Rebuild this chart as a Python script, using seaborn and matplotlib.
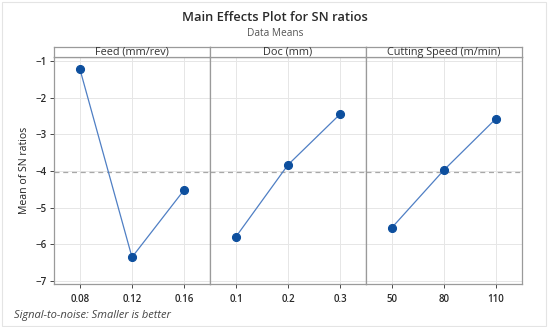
import seaborn as sns
import pandas as pd
import numpy as np
import matplotlib.pyplot as plt
from matplotlib.patches import Rectangle

# factor levels and mean SN ratios
feed_levels = ["0.08", "0.12", "0.16"]
feed_sn = [-1.23, -6.35, -4.52]
doc_levels = ["0.1", "0.2", "0.3"]
doc_sn = [-5.79, -3.83, -2.45]
speed_levels = ["50", "80", "110"]
speed_sn = [-5.54, -3.97, -2.57]

factors = ["Feed (mm/rev)", "Doc (mm)", "Cutting Speed (m/min)"]
levels = [feed_levels, doc_levels, speed_levels]
values = [feed_sn, doc_sn, speed_sn]

rows = []
for f, lv, vals in zip(factors, levels, values):
    for i, (l, v) in enumerate(zip(lv, vals)):
        rows.append({"factor": f, "level": l, "pos": i, "sn": v})
df = pd.DataFrame(rows)
grand_mean = np.mean(feed_sn + doc_sn + speed_sn)

sns.set_theme(style="white")
plt.rcParams['font.family'] = ['Open Sans', 'Noto Sans', 'DejaVu Sans']

fig = plt.figure(figsize=(5.5, 3.27), dpi=100)
fig.patches.append(Rectangle((0.003, 0.003), 0.99, 0.99, transform=fig.transFigure,
                             fill=False, edgecolor="#e4e4e4", linewidth=0.8))

left, right = 54 / 550, 522 / 550
bottom, top = 1 - 284 / 327, 1 - 57 / 327
strip_h = 10 / 327
w = (right - left) / 3
edge = "#9a9a9a"
ylabels = ["\u22121", "\u22122", "\u22123", "\u22124", "\u22125", "\u22126", "\u22127"]

axes = []
for k, f in enumerate(factors):
    ax = fig.add_axes([left + k * w, bottom, w, top - bottom])
    sub = df[df["factor"] == f]
    ax.axhline(grand_mean, color="#a8a8a8", linestyle=(0, (4, 3)), linewidth=0.9, zorder=1)
    sns.lineplot(data=sub, x="pos", y="sn", ax=ax, color="#4f7fc4", linewidth=0.9,
                 marker="o", markersize=5.8, markerfacecolor="#0d4f9e",
                 markeredgecolor="#0d4f9e", zorder=3)
    ax.set_xlim(-0.5, 2.5)
    ax.set_ylim(-7.08, -0.89)
    ax.set_xticks([0, 1, 2])
    ax.set_xticklabels(sub["level"].tolist(), fontweight="semibold")
    ax.set_yticks([-1, -2, -3, -4, -5, -6, -7])
    ax.grid(True, color="#e6e6e6", linewidth=0.7)
    ax.set_axisbelow(True)
    ax.set_xlabel("")
    ax.set_ylabel("")
    for s in ax.spines.values():
        s.set_color(edge)
        s.set_linewidth(0.9)
    ax.tick_params(axis="both", labelsize=7.0, colors="#2a2a2a", length=3, width=0.6,
                   direction="out", bottom=True, left=(k == 0), pad=2)
    ax.tick_params(axis="x", pad=4)
    if k > 0:
        ax.set_yticklabels([])
    else:
        ax.set_yticklabels(ylabels, fontweight="semibold")
    # strip header
    hx = fig.add_axes([left + k * w, top, w, strip_h])
    hx.set_xticks([])
    hx.set_yticks([])
    for s in hx.spines.values():
        s.set_color(edge)
        s.set_linewidth(0.9)
    hx.text(0.5, 0.45, f, ha="center", va="center", fontsize=7.8, color="#333333",
            transform=hx.transAxes)
    axes.append(ax)

axes[0].set_ylabel("Mean of SN ratios", fontsize=7.6, color="#222222", labelpad=4)

fig.text(0.5, 0.945, "Main Effects Plot for SN ratios", ha="center", va="center",
         fontsize=9.3, fontweight="semibold", color="#2a2a2a")
fig.text(0.5, 0.898, "Data Means", ha="center", va="center", fontsize=7.3, color="#555555")
fig.text(0.026, 0.035, "Signal-to-noise: Smaller is better", ha="left", va="center",
         fontsize=8.0, style="italic", color="#444444")

fig.savefig("out.png", dpi=100)
